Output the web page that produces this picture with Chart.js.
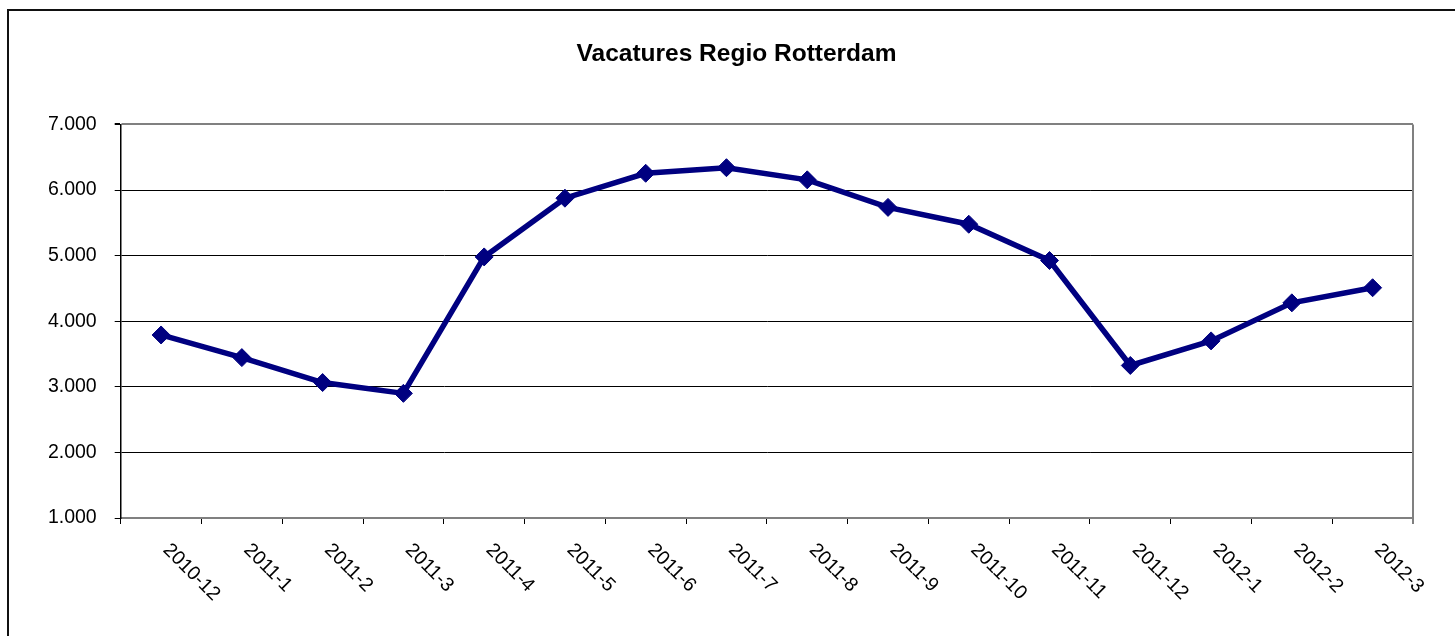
<!DOCTYPE html>
<html>
<head>
<meta charset="utf-8">
<title>Vacatures Regio Rotterdam</title>
<script src="https://cdn.jsdelivr.net/npm/chart.js@4.4.0/dist/chart.umd.min.js"></script>
<style>
  html, body { margin: 0; padding: 0; background: #fff; overflow: hidden; }
  #frame { position: absolute; left: 7px; top: 9px; width: 1500px; height: 700px; border: 2px solid #111; }
  #wrap { position: absolute; left: 0; top: 0; width: 1455px; height: 636px; }
</style>
</head>
<body>
<div id="frame"></div>
<div id="wrap"><canvas id="myChart"></canvas></div>
<script>
var months = ['2010-12', '2011-1', '2011-2', '2011-3', '2011-4', '2011-5', '2011-6', '2011-7',
              '2011-8', '2011-9', '2011-10', '2011-11', '2011-12', '2012-1', '2012-2', '2012-3'];
var vacatures = [3790, 3445, 3065, 2900, 4980, 5875, 6255, 6340,
                 6155, 5735, 5478, 4925, 3325, 3700, 4280, 4510];
var yTicks = [1000, 2000, 3000, 4000, 5000, 6000, 7000];
var yTickLabels = ['1.000', '2.000', '3.000', '4.000', '5.000', '6.000', '7.000'];

var FONT = 'Liberation Sans, Arial, sans-serif';

// x labels are rotated clockwise (reading down to the right), Chart.js can't do that itself
var slantedLabels = {
    id: 'slantedLabels',
    afterDraw: function(chart) {
        var ctx = chart.ctx;
        var xs = chart.scales.x;
        ctx.save();
        ctx.fillStyle = '#000';
        ctx.font = '19.5px ' + FONT;
        ctx.textAlign = 'left';
        ctx.textBaseline = 'middle';
        for (var i = 0; i < months.length; i++) {
            ctx.save();
            ctx.translate(xs.getPixelForValue(i) + 5, xs.top + 29);
            ctx.rotate(Math.PI / 4);
            ctx.fillText(months[i], 0, 0);
            ctx.restore();
        }
        ctx.restore();
    }
};

// grey right edge of the plot area, and nudge the title a bit to the right
var plotBorder = {
    id: 'plotBorder',
    afterLayout: function(chart) {
        if (chart.titleBlock) {
            chart.titleBlock.left += 30;
            chart.titleBlock.right += 30;
        }
    },
    beforeDatasetsDraw: function(chart) {
        var a = chart.chartArea;
        var ctx = chart.ctx;
        ctx.save();
        ctx.strokeStyle = '#808080';
        ctx.lineWidth = 2;
        ctx.beginPath();
        ctx.moveTo(a.right, a.top);
        ctx.lineTo(a.right, a.bottom + 6);
        ctx.stroke();
        ctx.restore();
    }
};

function drawChart()
{
    var ctx = document.getElementById('myChart').getContext('2d');
    var chart = new Chart(ctx, {
        type: 'line',
        data: {
            labels: months,
            datasets: [{
                label: 'Vacatures',
                data: vacatures,
                fill: false,
                tension: 0,
                borderColor: '#000080',
                borderWidth: 5.5,
                pointStyle: 'rectRot',
                pointRadius: 9,
                pointBorderWidth: 1,
                pointBackgroundColor: '#000080',
                pointBorderColor: '#000080'
            }]
        },
        options: {
            responsive: true,
            maintainAspectRatio: false,
            animation: false,
            devicePixelRatio: 1,
            layout: { padding: { left: 0, right: 42, top: 0, bottom: 0 } },
            plugins: {
                legend: { display: false },
                tooltip: { enabled: false },
                title: {
                    display: true,
                    text: 'Vacatures Regio Rotterdam',
                    color: '#000',
                    font: { family: FONT, size: 24.5, weight: 'bold' },
                    padding: { top: 40, bottom: 55 }
                }
            },
            scales: {
                x: {
                    offset: true,
                    grid: {
                        offset: true,
                        drawOnChartArea: false,
                        drawTicks: true,
                        tickLength: 6,
                        color: '#000',
                        lineWidth: 1
                    },
                    border: { display: true, color: '#808080', width: 2 },
                    ticks: { display: false },
                    afterFit: function(scale) { scale.height = 118; }
                },
                y: {
                    min: 1000,
                    max: 7000,
                    afterBuildTicks: function(scale) {
                        scale.ticks = yTicks.map(function(v) { return { value: v }; });
                    },
                    grid: {
                        color: function(c) { return c.tick && c.tick.value === 7000 ? '#808080' : '#000'; },
                        lineWidth: function(c) { return c.tick && c.tick.value === 7000 ? 2 : 1; },
                        tickColor: '#000',
                        tickLength: 6
                    },
                    border: { display: true, color: '#000', width: 1.5 },
                    ticks: {
                        color: '#000',
                        padding: 18,
                        font: { family: FONT, size: 19.5 },
                        callback: function(v) { return yTickLabels[yTicks.indexOf(v)]; }
                    },
                    afterFit: function(scale) { scale.width = 120.7; }
                }
            }
        },
        plugins: [plotBorder, slantedLabels]
    });
}

drawChart();
</script>
</body>
</html>
